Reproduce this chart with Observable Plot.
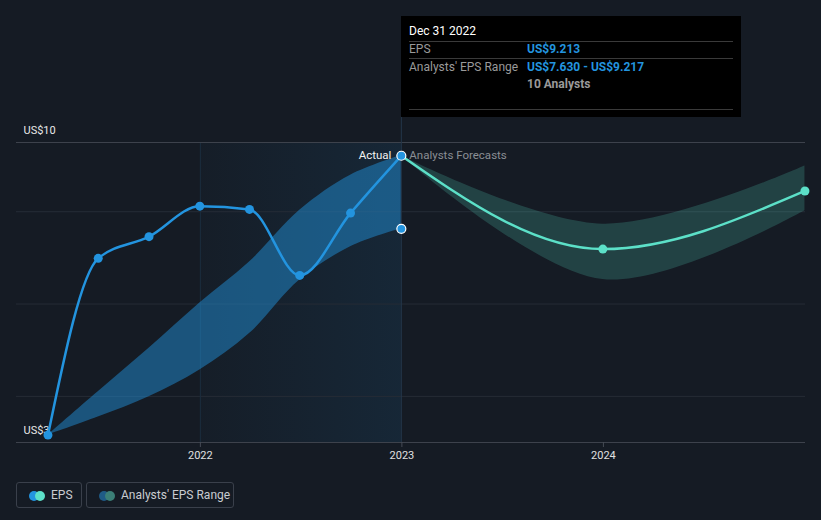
<!DOCTYPE html>
<html>
<head>
<meta charset="utf-8">
<script src="https://cdn.jsdelivr.net/npm/d3@7"></script>
<script src="https://cdn.jsdelivr.net/npm/@observablehq/plot@0.6"></script>
<style>
  html, body { margin: 0; padding: 0; background: #151b24; }
  body { font-family: Roboto, "Noto Sans", sans-serif; }
  #wrap { position: relative; width: 821px; height: 520px; overflow: hidden; }
  #chart { position: absolute; left: 0; top: 0; }
  .tip { position: absolute; left: 401px; top: 16px; width: 340px; height: 101px; background: #000; }
  .tip .t { position: absolute; font-size: 12px; line-height: 14px; white-space: nowrap; }
  .tip .sep { position: absolute; left: 8px; width: 324px; height: 1px; background: #3a3a3a; }
  .legend-item { position: absolute; top: 482px; height: 26px; border: 1px solid #3a404b; border-radius: 3px; box-sizing: border-box; color: #c9ccd1; font-size: 12px; }
  .legend-item .dot { position: absolute; top: 8px; width: 10px; height: 10px; border-radius: 50%; }
  .legend-item .lbl { position: absolute; top: 5px; white-space: nowrap; }
</style>
</head>
<body>
<div id="wrap">
  <div id="chart"></div>
  <div class="tip" id="tip"></div>
  <div class="legend-item" style="left:16px;width:66px;">
    <span class="dot" style="left:12px;background:#2394df;"></span>
    <span class="dot" style="left:18px;background:#5ce0c8;"></span>
    <span class="lbl" style="left:34px;">EPS</span>
  </div>
  <div class="legend-item" style="left:86px;width:148px;">
    <span class="dot" style="left:12px;background:#1f5b86;"></span>
    <span class="dot" style="left:18px;background:#3b7f77;"></span>
    <span class="lbl" style="left:34px;">Analysts' EPS Range</span>
  </div>
</div>
<script>
// ---- data ----
const histDates = ["2021-03-31","2021-06-30","2021-09-30","2021-12-31","2022-03-31","2022-06-30","2022-09-30","2022-12-31"];
const histEps   = [3.16, 6.99, 7.46, 8.12, 8.05, 6.62, 7.97, 9.213];
const histLow   = [3.16, 3.55, 3.99, 4.57, 5.36, 6.52, 7.24, 7.630];
const histHigh  = [3.16, 4.10, 5.04, 6.02, 6.91, 8.03, 8.79, 9.217];
const fcDates = ["2022-12-31","2023-12-31","2024-12-31"];
const fcEps   = [9.213, 7.19, 8.45];
const fcLow   = [9.213, 6.53, 8.02];
const fcHigh  = [9.213, 7.73, 8.99];
const yLabelValues = [3, 9.5];
const gridValues = [4, 6, 8];
const xTickDates = ["2022-01-01","2023-01-01","2024-01-01"];
const highlightStart = "2022-01-01";
const hoverDate = "2022-12-31";
const hoverLabel = "Dec 31 2022";
const analystsCount = 10;
const xDomain = ["2021-02-02","2025-01-01"];

const P = s => new Date(s + "T00:00:00Z");
const hist = histDates.map((d, i) => ({date: P(d), eps: histEps[i], low: histLow[i], high: histHigh[i]}));
const fc = fcDates.map((d, i) => ({date: P(d), eps: fcEps[i], low: fcLow[i], high: fcHigh[i]}));
const last = hist[hist.length - 1];

const blue = "#2394df", teal = "#5ce0c8";

const chart = Plot.plot({
  width: 821,
  height: 470,
  marginLeft: 16,
  marginRight: 16,
  marginTop: 142,
  marginBottom: 28,
  style: {background: "transparent", fontFamily: "Roboto, sans-serif", overflow: "visible"},
  x: {type: "utc", domain: xDomain.map(P)},
  y: {domain: [3, 9.5]},
  marks: [
    Plot.rect([{x1: P(highlightStart), x2: P(hoverDate)}], {x1: "x1", x2: "x2", y1: 3, y2: 9.5, fill: "url(#hlgrad)"}),
    Plot.ruleY(gridValues, {stroke: "#262c36", strokeWidth: 1}),
    Plot.ruleX([P(highlightStart)], {stroke: "#1b2d3e", strokeWidth: 1}),
    Plot.areaY(hist, {x: "date", y1: "low", y2: "high", curve: "catmull-rom", fill: blue, fillOpacity: 0.47}),
    Plot.areaY(fc, {x: "date", y1: "low", y2: "high", curve: "catmull-rom", fill: teal, fillOpacity: 0.2}),
    Plot.ruleY(yLabelValues, {stroke: "#3d424c", strokeWidth: 1}),
    Plot.ruleX([P(hoverDate)], {stroke: "#24374a", strokeWidth: 1, insetTop: -26}),
    Plot.axisY(yLabelValues, {anchor: "left", tickSize: 0, textAnchor: "start", dx: 16, dy: -12, tickFormat: d => `US$${Math.round(d)}`, fill: "#e8e8e8", fontSize: 11, label: null}),
    Plot.axisX(xTickDates.map(P), {tickSize: 5, stroke: "#464b55", tickPadding: 4, tickFormat: d3.utcFormat("%Y"), fill: "#e0e0e0", fontSize: 11, label: null}),
    Plot.line(fc, {x: "date", y: "eps", curve: "monotone-x", stroke: teal, strokeWidth: 2.5}),
    Plot.line(hist, {x: "date", y: "eps", curve: "monotone-x", stroke: blue, strokeWidth: 2.5}),
    Plot.dot(hist.slice(0, -1), {x: "date", y: "eps", r: 4.5, fill: blue}),
    Plot.dot(fc.slice(1), {x: "date", y: "eps", r: 4.5, fill: teal}),
    Plot.dot([last], {x: "date", y: "eps", r: 4.5, fill: blue, stroke: "#fff", strokeWidth: 1.2}),
    Plot.dot([last], {x: "date", y: "low", r: 4.5, fill: blue, stroke: "#fff", strokeWidth: 1.2}),
    Plot.text([last], {x: "date", y: "eps", text: () => "Actual", textAnchor: "end", dx: -10, fill: "#f2f2f2", fontSize: 11.5}),
    Plot.text([last], {x: "date", y: "eps", text: () => "Analysts Forecasts", textAnchor: "start", dx: 8, fill: "#8a8e94", fontSize: 11.5})
  ]
});

const svg = d3.select(chart);
const defs = svg.insert("defs", ":first-child");
const g = defs.append("linearGradient").attr("id", "hlgrad").attr("x1", "0").attr("x2", "1").attr("y1", "0").attr("y2", "0");
g.append("stop").attr("offset", "0").attr("stop-color", "#2394df").attr("stop-opacity", 0.02);
g.append("stop").attr("offset", "1").attr("stop-color", "#2394df").attr("stop-opacity", 0.1);
document.getElementById("chart").appendChild(chart);

// tooltip
const fmt = v => "US$" + v.toFixed(3);
const tip = document.getElementById("tip");
tip.innerHTML = `
  <div class="t" style="left:8px;top:8px;color:#fff;">${hoverLabel}</div>
  <div class="sep" style="top:25px;"></div>
  <div class="t" style="left:8px;top:26px;color:#9a9a9a;">EPS</div>
  <div class="t" style="left:126px;top:26px;color:${blue};font-weight:bold;">${fmt(last.eps)}</div>
  <div class="sep" style="top:42px;"></div>
  <div class="t" style="left:8px;top:44px;color:#9a9a9a;">Analysts' EPS Range</div>
  <div class="t" style="left:126px;top:44px;color:${blue};font-weight:bold;">${fmt(last.low)} - ${fmt(last.high)}</div>
  <div class="t" style="left:126px;top:61px;color:#9a9a9a;font-weight:bold;">${analystsCount} Analysts</div>
  <div class="sep" style="top:93px;"></div>
`;
</script>
</body>
</html>
